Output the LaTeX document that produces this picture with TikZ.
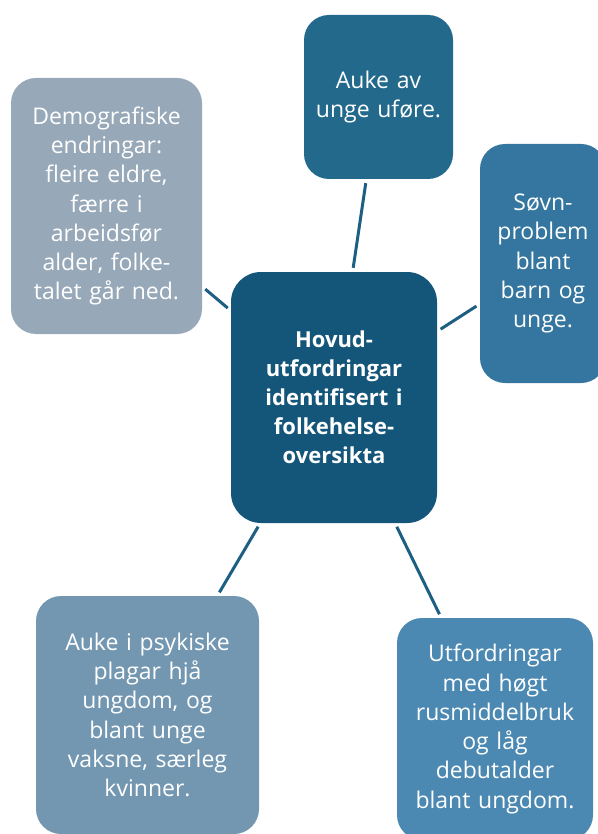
\documentclass[tikz,border=0pt]{standalone}
\usepackage{fontspec}
\setmainfont{Open Sans}
\definecolor{cHub}{HTML}{14567A}
\definecolor{cTop}{HTML}{22698C}
\definecolor{cRight}{HTML}{34769F}
\definecolor{cBR}{HTML}{4C89B2}
\definecolor{cBL}{HTML}{7397B1}
\definecolor{cLeft}{HTML}{97A8B9}
\definecolor{cLine}{HTML}{1C5F82}
\newcommand\ftext{\fontsize{23pt}{29.3pt}\selectfont}
\newcommand\fhub{\fontsize{22pt}{29pt}\selectfont\bfseries}
\tikzset{
  box/.style={rectangle, rounded corners=25pt, text=white, align=center, inner sep=0pt, font=\ftext},
  hubbox/.style={box, rounded corners=30pt, font=\fhub, fill=cHub},
  conn/.style={line width=3pt, draw=cLine, shorten >=4pt, shorten <=4pt}
}
\begin{document}
\begin{tikzpicture}[x=1pt,y=-1pt]
\useasboundingbox (0,0) rectangle (597,834);
\node[hubbox, minimum width=206pt, minimum height=251pt, text width=196pt] (hub) at (334,397.5)
  {Hovud-\\utfordringar\\identifisert i\\folkehelse-\\oversikta};
\node[box, fill=cTop, minimum width=149pt, minimum height=164pt, text width=145pt] (top) at (378.5,97)
  {Auke av\\unge uføre.};
\node[box, fill=cLeft, minimum width=191pt, minimum height=256pt, text width=185pt] (left) at (106.5,206)
  {Demografiske\\endringar:\\fleire eldre,\\færre i\\arbeidsfør\\alder, folke-\\talet går ned.};
\node[box, fill=cRight, minimum width=126pt, minimum height=239pt, text width=122pt] (right) at (543,263.5)
  {Søvn-\\problem\\blant\\barn og\\unge.};
\node[box, fill=cBL, minimum width=223pt, minimum height=238pt, text width=217pt] (bl) at (147.5,715)
  {Auke i psykiske\\plagar hjå\\ungdom, og\\blant unge\\vaksne, særleg\\kvinner.};
\node[box, fill=cBR, minimum width=196pt, minimum height=222pt, text width=192pt] (br) at (495,729)
  {Utfordringar\\med høgt\\rusmiddelbruk\\og låg\\debutalder\\blant ungdom.};
\draw[conn] (hub) -- (top);
\draw[conn] (hub) -- (left);
\draw[conn] (hub) -- (right);
\draw[conn] (hub) -- (bl);
\draw[conn] (hub) -- (br);
\end{tikzpicture}
\end{document}
